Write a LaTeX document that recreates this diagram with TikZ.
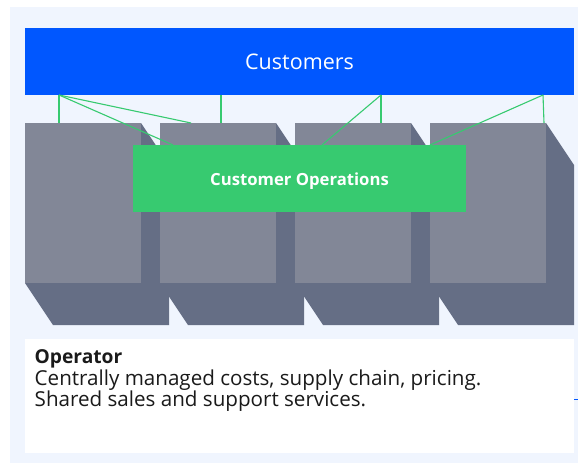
\documentclass[tikz,border=0pt]{standalone}
\usepackage{fontspec}
\setmainfont{Open Sans}
\usetikzlibrary{positioning}
\definecolor{panelBg}{HTML}{F0F5FE}
\definecolor{custBlue}{HTML}{0057FF}
\definecolor{opsGreen}{HTML}{37CA70}
\definecolor{blockFront}{HTML}{828797}
\definecolor{blockSide}{HTML}{656E85}
\definecolor{opText}{HTML}{1A1A1A}
\tikzset{
  every picture/.style={font=\normalsize, >=stealth}}

\begin{document}
\begin{tikzpicture}[x=1pt, y=-1pt,
    bar/.style={
      fill=custBlue, text=white, inner sep=0pt,
      minimum width=549pt, minimum height=67pt,
      font=\fontsize{21.5}{26}\selectfont},
    blockface/.style={
      fill=blockFront, inner sep=0pt, anchor=north west,
      minimum width=116pt, minimum height=160pt},
    opsbox/.style={
      fill=opsGreen, text=white, inner sep=0pt,
      minimum width=333pt, minimum height=67pt,
      font=\fontsize{16.7}{20}\selectfont\bfseries},
    opline/.style={
      anchor=base west, inner sep=0pt, text=opText,
      font=\fontsize{20.6}{22}\selectfont},
    link/.style={draw=opsGreen, line width=1.1pt}]

  \useasboundingbox (0,0) rectangle (578,463);
  \fill[panelBg] (10,7) rectangle (578,462.7);

  % blocks with their shadow
  \foreach \i/\x in {1/25, 2/160, 3/295, 4/430} {
    \fill[blockSide] (\x,123) -- ++(116,0) -- ++(28,42) -- ++(0,160)
      -- ++(-116,0) -- ++(-28,-42) -- cycle;
    \node[blockface] (blk\i) at (\x,123) {};
  }

  \node[bar] (customers) at (299.5,61.5) {Customers};
  \node[opsbox] (ops) at (299.5,178.5) {};
  \node[text=white, font=\fontsize{16.7}{20}\selectfont\bfseries, anchor=base]
    (opslabel) at (299.5,185.5) {Customer Operations};

  \coordinate (cu1) at (59,95);
  \coordinate (cu2) at (221,95);
  \coordinate (cu3) at (381,95);
  \coordinate (cu4) at (543,95);
  \coordinate (bt1) at (59,123);
  \coordinate (bt2) at (191,123);
  \coordinate (bt3) at (221,123);
  \coordinate (bt4) at (381,123);
  \coordinate (bt5) at (544,123);
  \coordinate (op1) at (173,145);
  \coordinate (op2) at (322,145);
  \coordinate (op3) at (430,145);

  \draw[link] (cu1) -- (bt1);
  \draw[link] (cu1) -- (bt2);
  \draw[link] (cu1) -- (op1);
  \draw[link] (cu2) -- (bt3);
  \draw[link] (cu3) -- (bt4);
  \draw[link] (cu3) -- (op2);
  \draw[link] (cu4) -- (bt5);
  \draw[link] (cu4) -- (op3);

  \fill[white] (25,339) rectangle (574,453.3);
  \node[opline, font=\fontsize{19.2}{22}\selectfont\bfseries]
    (optitle) at (34.5,363.3) {Operator};
  \node[opline] (opline1) at (34.5,385) {Centrally managed costs, supply chain, pricing.};
  \node[opline] (opline2) at (34.5,406.5) {Shared sales and support services.};

  \draw[custBlue, line width=1pt] (574.3,399) -- (578,399);
\end{tikzpicture}
\end{document}
